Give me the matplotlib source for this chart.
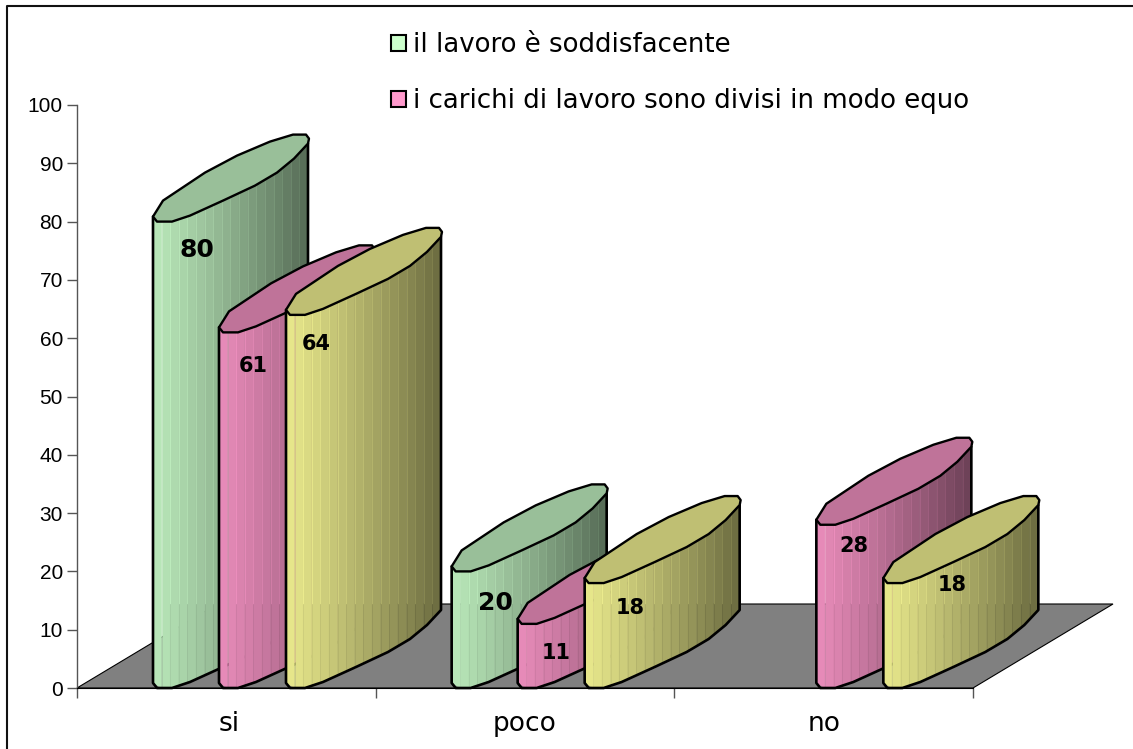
import numpy as np
import matplotlib
matplotlib.use("Agg")
import matplotlib.pyplot as plt
from matplotlib.lines import Line2D
from matplotlib.patches import Polygon, Rectangle

W, H = 1133, 749

categories = ['si', 'poco', 'no']
soddisfacente = [80, 20, 0]
carichi = [61, 11, 28]
terzo = [64, 18, 18]
legend_labels = ['il lavoro è soddisfacente', 'i carichi di lavoro sono divisi in modo equo']
yticks = np.arange(0, 101, 10)

colors = ['#CCFFCC', '#FF99CC', '#FFFF99']
series = [soddisfacente, carichi, terzo]

# plot area in pixels
x0, x1 = 77, 973
y0, y100 = 688, 105
px_x = 3 / (x1 - x0)
px_y = 100 / (y0 - y100)
slot_px = [76, 142, 209]
floor_line = 84 * px_y

# bar footprint, px from the front of the bar, y up
lower = np.array([(0, 5), (4, 0), (19, 0), (37, 6), (70, 21), (102, 36), (124, 49), (141, 63), (155, 78)], float)
upper = np.array([(156, 83), (153, 87), (140, 87), (117, 80), (84, 66), (52, 49), (10, 21)], float)
n_strips = 18

# value label offset from the bar's front top corner, px
label_offset = {(0, 0): (44, 28.5), (0, 1): (34, 33.6), (0, 2): (30, 29),
                (1, 0): (44, 31.6), (1, 1): (39, 29), (1, 2): (46, 25),
                (2, 1): (38, 21), (2, 2): (69, 2)}
cat_nudge = [3, 0, 0]

fig = plt.figure(figsize=(W / 100, H / 100), dpi=100)
# the frame only shows on top and left
fig.add_artist(Line2D([7 / W, 7 / W, 1], [0, 1 - 6 / H, 1 - 6 / H], transform=fig.transFigure,
                      color='#111111', linewidth=1.5))

ax = fig.add_axes([x0 / W, 1 - y0 / H, (x1 - x0) / W, (y0 - y100) / H])
ax.set_xlim(0, 3)
ax.set_ylim(0, 100)
ax.patch.set_visible(False)
for s in ['top', 'right']:
    ax.spines[s].set_visible(False)
ax.spines['left'].set_color('#555555')
ax.spines['left'].set_linewidth(1)
ax.spines['bottom'].set_color('black')
ax.spines['bottom'].set_linewidth(0.8)
ax.set_yticks(yticks)
ax.set_xticks([0, 1, 2, 3])
ax.set_xticklabels([])
ax.tick_params(axis='y', length=7.2, width=1, color='#555555', labelsize=15, pad=2.9)
ax.tick_params(axis='x', length=7.2, width=1, color='#555555')
for t in ax.get_yticklabels():
    t.set_family('Liberation Sans')

# floor
floor = [(0, 0), (3, 0), (3 + 140 * px_x, floor_line), (140 * px_x, floor_line)]
ax.add_patch(Polygon(floor, closed=True, facecolor='#808080', edgecolor='black', linewidth=0.8,
                     clip_on=False, zorder=1))


def draw_bar(left_px, value, color, z):
    base = np.array(matplotlib.colors.to_rgb(color))
    xs = np.linspace(0, 155, n_strips + 1)
    ys = np.interp(xs, lower[1:, 0], lower[1:, 1])
    ys[0] = 5
    to_x = (left_px + xs - x0) * px_x
    for i in range(n_strips):
        shade = 0.9 - 0.47 * (i / (n_strips - 1)) ** 1.1
        poly = [(to_x[i], ys[i] * px_y), (to_x[i + 1], ys[i + 1] * px_y),
                (to_x[i + 1], value + ys[i + 1] * px_y), (to_x[i], value + ys[i] * px_y)]
        ax.add_patch(Polygon(poly, closed=True, facecolor=base * shade, edgecolor=base * shade,
                             linewidth=0.4, clip_on=False, zorder=z))
        if i < 2:
            continue
        # pale seams above the floor line, darker ones below
        top = value + ys[i] * px_y
        bottom = ys[i] * px_y
        if top > floor_line:
            ax.plot([to_x[i]] * 2, [max(floor_line, bottom), top],
                    color=np.minimum(base * (shade + 0.07), 1), lw=0.7, clip_on=False, zorder=z)
        if bottom < floor_line:
            ax.plot([to_x[i]] * 2, [bottom, min(floor_line, top)],
                    color=base * (shade - 0.05), lw=0.6, clip_on=False, zorder=z)
    body = [((left_px + a - x0) * px_x, b * px_y) for a, b in lower]
    body += [((left_px + 155 - x0) * px_x, value + 78 * px_y), ((left_px - x0) * px_x, value + 5 * px_y)]
    ax.add_patch(Polygon(body, closed=True, fill=False, edgecolor='black', linewidth=1.9,
                         joinstyle='round', clip_on=False, zorder=z + 0.1))
    top_face = [((left_px + a - x0) * px_x, value + b * px_y) for a, b in np.vstack([lower, upper])]
    ax.add_patch(Polygon(top_face, closed=True, facecolor=base * 0.75, edgecolor='black', linewidth=1.7,
                         joinstyle='round', clip_on=False, zorder=z + 0.2))


z = 2
for c in range(len(categories)):
    for k, vals in enumerate(series):
        if vals[c] == 0:
            continue
        left = x0 + c * (x1 - x0) / 3 + slot_px[k]
        draw_bar(left, vals[c], colors[k], z)
        z += 1
        dx, dy = label_offset[(c, k)]
        ax.text((left + dx - x0) * px_x, vals[c] - dy * px_y, str(vals[c]), ha='center', va='center',
                fontsize=18 if k == 0 else 15, fontweight='bold', color='black', clip_on=False, zorder=200)

# category labels
for i, name in enumerate(categories):
    ax.text(i + 0.5 + cat_nudge[i] * px_x, -43 * px_y, name, ha='center', va='baseline', fontsize=19, clip_on=False)

# legend
leg_y = [43, 99]
for y, label, color in zip(leg_y, legend_labels, colors):
    fig.add_artist(Rectangle((391 / W, 1 - (y + 7.5) / H), 15 / W, 15 / H, transform=fig.transFigure,
                             facecolor=color, edgecolor='black', linewidth=1.5))
    fig.text(413 / W, 1 - (y + 1.5) / H, label, ha='left', va='center', fontsize=18.7, color='black')

fig.savefig("out.png", dpi=100)
